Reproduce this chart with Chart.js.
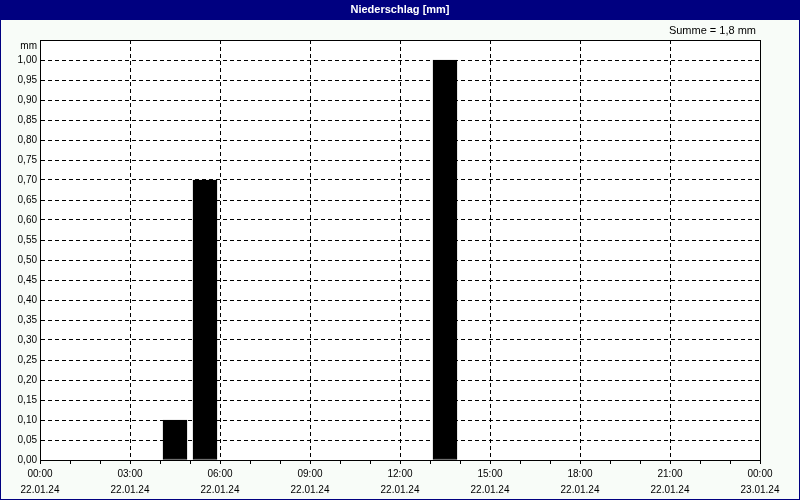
<!DOCTYPE html>
<html>
<head>
<meta charset="utf-8">
<script src="https://cdn.jsdelivr.net/npm/chart.js@4/dist/chart.umd.min.js"></script>
<style>
  body { margin: 0; background: #f8fcf8; }
  canvas { display: block; }
</style>
</head>
<body>
<canvas id="myChart" width="800" height="500"></canvas>
<script>
// Data: hourly precipitation, bars sit in the hour that starts at barHours[i]
const barHours = [4, 5, 13];
const rainValues = [0.1, 0.7, 1.0];
const tickHours = [0, 3, 6, 9, 12, 15, 18, 21, 24];
const tickTimes = ["00:00", "03:00", "06:00", "09:00", "12:00", "15:00", "18:00", "21:00", "00:00"];
const tickDates = ["22.01.24", "22.01.24", "22.01.24", "22.01.24", "22.01.24", "22.01.24", "22.01.24", "22.01.24", "23.01.24"];
const titleText = "Niederschlag [mm]";
const sumText = "Summe = 1,8 mm";
const yUnit = "mm";

const barPoints = barHours.map((h, i) => ({ x: h + 0.5, y: rainValues[i] }));

// background, title bar, frame
const framePlugin = {
  id: 'frame',
  beforeDraw(chart) {
    const ctx = chart.ctx;
    const a = chart.chartArea;
    ctx.save();
    ctx.fillStyle = '#f8fcf8';
    ctx.fillRect(0, 0, chart.width, chart.height);
    ctx.fillStyle = '#ffffff';
    ctx.fillRect(a.left, a.top, a.right - a.left, a.bottom - a.top);
    ctx.restore();
  },
  afterDraw(chart) {
    const ctx = chart.ctx;
    const a = chart.chartArea;
    ctx.save();
    ctx.fillStyle = '#000080';
    ctx.fillRect(0, 0, chart.width, 20);
    ctx.strokeStyle = '#000080';
    ctx.lineWidth = 1;
    ctx.strokeRect(0.5, 0.5, chart.width - 1, chart.height - 1);
    ctx.fillStyle = '#ffffff';
    ctx.font = 'bold 11px "Liberation Sans", Arial, sans-serif';
    ctx.textAlign = 'center';
    ctx.textBaseline = 'middle';
    ctx.fillText(titleText, chart.width / 2, 10);
    ctx.fillStyle = '#000000';
    ctx.font = '11px "Liberation Sans", Arial, sans-serif';
    ctx.textAlign = 'right';
    ctx.fillText(sumText, a.right - 4, 31);
    // unit label sits just under the top of the y axis
    ctx.font = '10px "Liberation Sans", Arial, sans-serif';
    ctx.fillText(yUnit, a.left - 3, a.top + 6);
    ctx.strokeStyle = '#000000';
    ctx.strokeRect(Math.round(a.left) + 0.5, Math.round(a.top) + 0.5,
      Math.round(a.right - a.left), Math.round(a.bottom - a.top));
    ctx.restore();
  }
};

const config = {
  type: 'bar',
  data: {
    datasets: [{
      data: barPoints,
      backgroundColor: '#000000',
      borderColor: '#000000',
      borderWidth: 1,
      borderSkipped: false,
      barThickness: 24
    }]
  },
  options: {
    responsive: false,
    animation: false,
    layout: { padding: { left: 0, right: 40, top: 40, bottom: 0 } },
    plugins: { legend: { display: false }, tooltip: { enabled: false } },
    scales: {
      x: {
        type: 'linear',
        min: 0,
        max: 24,
        offset: false,
        afterFit(scale) {
          scale.height = 40;
          scale.paddingLeft = 0;
          scale.paddingRight = 0;
        },
        afterBuildTicks(scale) {
          scale.ticks = [];
          for (let h = 0; h <= 24; h++) scale.ticks.push({ value: h });
        },
        ticks: {
          autoSkip: false,
          maxRotation: 0,
          padding: 2,
          color: '#000000',
          font: { family: '"Liberation Sans", Arial, sans-serif', size: 10, lineHeight: 1.6 },
          callback(value) {
            const i = tickHours.indexOf(value);
            return i < 0 ? '' : [tickTimes[i], tickDates[i]];
          }
        },
        grid: {
          offset: false,
          color: ctx => (ctx.tick && ctx.tick.value % 3 === 0 && ctx.tick.value > 0 && ctx.tick.value < 24) ? '#000000' : 'rgba(0,0,0,0)',
          tickColor: '#000000',
          tickLength: 4,
          tickBorderDash: [],
          lineWidth: 1
        },
        border: { display: true, color: '#000000', width: 1, dash: [4, 3] }
      },
      y: {
        min: 0,
        max: 1.05,
        afterFit(scale) { scale.width = 40; },
        afterBuildTicks(scale) {
          scale.ticks = [];
          for (let k = 0; k <= 21; k++) scale.ticks.push({ value: k * 0.05 });
        },
        ticks: {
          autoSkip: false,
          padding: 3,
          color: '#000000',
          font: { family: '"Liberation Sans", Arial, sans-serif', size: 10 },
          callback(value) {
            if (value > 1.02) return '';
            return value.toFixed(2).replace('.', ',');
          }
        },
        grid: {
          drawTicks: false,
          color: ctx => (ctx.tick && ctx.tick.value > 0.01 && ctx.tick.value < 1.02) ? '#000000' : 'rgba(0,0,0,0)',
          lineWidth: 1
        },
        border: { display: true, color: '#000000', width: 1, dash: [4, 3] }
      }
    }
  },
  plugins: [framePlugin]
};

const myChart = new Chart(document.getElementById('myChart'), config);
</script>
</body>
</html>
